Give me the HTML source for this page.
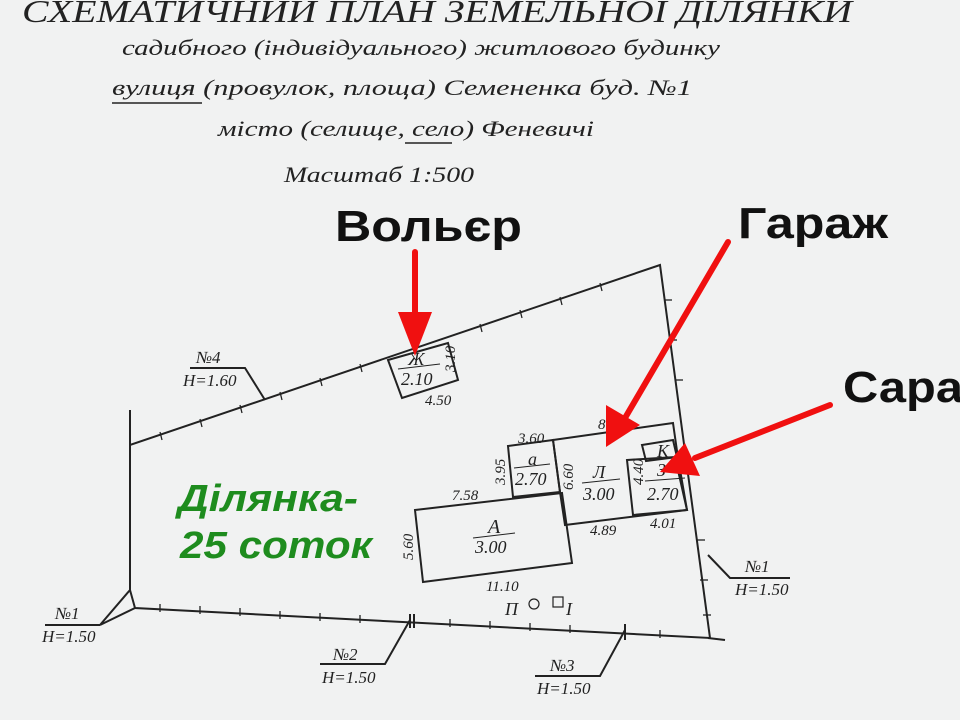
<!DOCTYPE html>
<html><head><meta charset="utf-8"><style>
html,body{margin:0;padding:0;background:#f1f2f2}
svg{display:block}
.s{font-family:"Liberation Serif",serif;font-style:italic;fill:#222}
.b{font-family:"Liberation Sans",sans-serif;font-weight:bold;fill:#111}
.g{font-family:"Liberation Sans",sans-serif;font-weight:bold;font-style:italic;fill:#1e8c1e}
</style></head><body>
<svg width="960" height="720" viewBox="0 0 960 720" xmlns="http://www.w3.org/2000/svg">
<rect width="960" height="720" fill="#f1f2f2"/>
<g class="s">
<text x="22" y="22" font-size="32" textLength="830" lengthAdjust="spacingAndGlyphs">СХЕМАТИЧНИЙ ПЛАН ЗЕМЕЛЬНОЇ ДІЛЯНКИ</text>
<text x="122" y="55" font-size="22" textLength="598" lengthAdjust="spacingAndGlyphs">садибного (індивідуального) житлового будинку</text>
<text x="112" y="95" font-size="22" textLength="580" lengthAdjust="spacingAndGlyphs">вулиця (провулок, площа) Семененка  буд. №1</text>
<text x="218" y="136" font-size="22" textLength="376" lengthAdjust="spacingAndGlyphs">місто (селище, село) Феневичі</text>
<text x="284" y="182" font-size="22" textLength="190" lengthAdjust="spacingAndGlyphs">Масштаб 1:500</text>
</g>
<line x1="112" y1="103" x2="202" y2="103" stroke="#222" stroke-width="1.5"/>
<line x1="405" y1="143" x2="452" y2="143" stroke="#222" stroke-width="1.5"/>
<g fill="none" stroke="#222" stroke-width="2">
<polyline points="130,410 130,445 660,265 710,638 135,608 130,590 130,445"/>
<polyline points="708,638 725,640"/>
<polyline points="130,590 100,625 135,608"/>
<polyline points="100,625 45,625"/>
<polyline points="265,400 245,368 190,368"/>
<polyline points="708,555 730,578 790,578"/>
<polyline points="410,620 385,664 320,664"/>
<polyline points="625,630 600,676 535,676"/>
<line x1="410" y1="614" x2="410" y2="628"/><line x1="414" y1="614" x2="414" y2="628"/>
<line x1="625" y1="624" x2="625" y2="640"/>
<polygon points="388,360 448,343 458,380 402,398"/>
<polygon points="508,446 553,440 560,492 513,497"/>
<polygon points="553,440 673,423 678,458 687,510 565,525 560,492"/>
<polygon points="627,460 675,457 687,510 633,515"/>
<polygon points="642,445 673,440 677,457 646,461"/>
<polygon points="415,510 562,493 572,563 423,582"/>
</g>
<g stroke="#222" stroke-width="1.3">
<line x1="160" y1="432" x2="162" y2="440"/><line x1="200" y1="419" x2="202" y2="427"/><line x1="240" y1="405" x2="242" y2="413"/><line x1="280" y1="392" x2="282" y2="400"/><line x1="320" y1="378" x2="322" y2="386"/><line x1="360" y1="364" x2="362" y2="372"/><line x1="480" y1="324" x2="482" y2="332"/><line x1="520" y1="310" x2="522" y2="318"/><line x1="560" y1="297" x2="562" y2="305"/><line x1="600" y1="283" x2="602" y2="291"/>
<line x1="160" y1="604" x2="160" y2="612"/><line x1="200" y1="606" x2="200" y2="614"/><line x1="240" y1="608" x2="240" y2="616"/><line x1="280" y1="611" x2="280" y2="619"/><line x1="320" y1="613" x2="320" y2="621"/><line x1="360" y1="615" x2="360" y2="623"/><line x1="450" y1="619" x2="450" y2="627"/><line x1="490" y1="621" x2="490" y2="629"/><line x1="530" y1="623" x2="530" y2="631"/><line x1="570" y1="625" x2="570" y2="633"/><line x1="660" y1="630" x2="660" y2="638"/>
<line x1="664" y1="300" x2="672" y2="300"/><line x1="669" y1="340" x2="677" y2="340"/><line x1="675" y1="380" x2="683" y2="380"/><line x1="697" y1="540" x2="705" y2="540"/><line x1="700" y1="580" x2="708" y2="580"/><line x1="703" y1="615" x2="711" y2="615"/>
</g>
<g class="s" font-size="15">
<text x="408" y="365" font-size="18">Ж</text><text x="401" y="385" font-size="18">2.10</text><line x1="398" y1="369" x2="440" y2="364" stroke="#222"/>
<text x="455" y="372" transform="rotate(-90 455 372)">3.10</text>
<text x="425" y="405">4.50</text>
<text x="518" y="443">3.60</text>
<text x="598" y="429">8.5</text>
<text x="528" y="465" font-size="18">а</text><text x="515" y="485" font-size="18">2.70</text><line x1="514" y1="468" x2="550" y2="464" stroke="#222"/>
<text x="505" y="485" transform="rotate(-90 505 485)">3.95</text>
<text x="573" y="490" transform="rotate(-90 573 490)">6.60</text>
<text x="593" y="478" font-size="18">Л</text><text x="583" y="500" font-size="18">3.00</text><line x1="582" y1="483" x2="620" y2="479" stroke="#222"/>
<text x="643" y="485" transform="rotate(-90 643 485)">4.40</text>
<text x="657" y="457" font-size="18">К</text>
<text x="657" y="476" font-size="18">З</text><text x="647" y="500" font-size="18">2.70</text><line x1="645" y1="481" x2="685" y2="478" stroke="#222"/>
<text x="452" y="500">7.58</text>
<text x="590" y="535">4.89</text>
<text x="650" y="528">4.01</text>
<text x="488" y="533" font-size="20">А</text><text x="475" y="553" font-size="18">3.00</text><line x1="473" y1="538" x2="515" y2="533" stroke="#222"/>
<text x="413" y="560" transform="rotate(-90 413 560)">5.60</text>
<text x="486" y="591">11.10</text>
<text x="505" y="615" font-size="18">П</text><circle cx="534" cy="604" r="5" fill="none" stroke="#222" stroke-width="1.2"/><rect x="553" y="597" width="10" height="10" fill="none" stroke="#222" stroke-width="1.2"/><text x="566" y="615" font-size="18">І</text>
<text x="196" y="363" font-size="17">№4</text><text x="183" y="386" font-size="17">Н=1.60</text>
<text x="745" y="572" font-size="17">№1</text><text x="735" y="595" font-size="17">Н=1.50</text>
<text x="55" y="619" font-size="17">№1</text><text x="42" y="642" font-size="17">Н=1.50</text>
<text x="333" y="660" font-size="17">№2</text><text x="322" y="683" font-size="17">Н=1.50</text>
<text x="550" y="671" font-size="17">№3</text><text x="537" y="694" font-size="17">Н=1.50</text>
</g>
<g fill="#f01010" stroke="#f01010" stroke-linecap="round">
<line x1="415" y1="252" x2="415" y2="325" stroke-width="6"/>
<polygon points="398,312 432,312 415,356" stroke="none"/>
<line x1="728" y1="242" x2="625" y2="418" stroke-width="6"/>
<polygon points="606,405 640,425 606,447" stroke="none"/>
<line x1="830" y1="405" x2="695" y2="458" stroke-width="6"/>
<polygon points="685,443 700,476 660,472" stroke="none"/>
</g>
<text class="b" x="335" y="241" font-size="44" textLength="187" lengthAdjust="spacingAndGlyphs">Вольєр</text>
<text class="b" x="738" y="238" font-size="44" textLength="150" lengthAdjust="spacingAndGlyphs">Гараж</text>
<text class="b" x="843" y="402" font-size="44" textLength="150" lengthAdjust="spacingAndGlyphs">Сарай</text>
<text class="g" x="178" y="511" font-size="38" textLength="180" lengthAdjust="spacingAndGlyphs">Ділянка-</text>
<text class="g" x="180" y="558" font-size="38" textLength="192" lengthAdjust="spacingAndGlyphs">25 соток</text>
</svg>
</body></html>
